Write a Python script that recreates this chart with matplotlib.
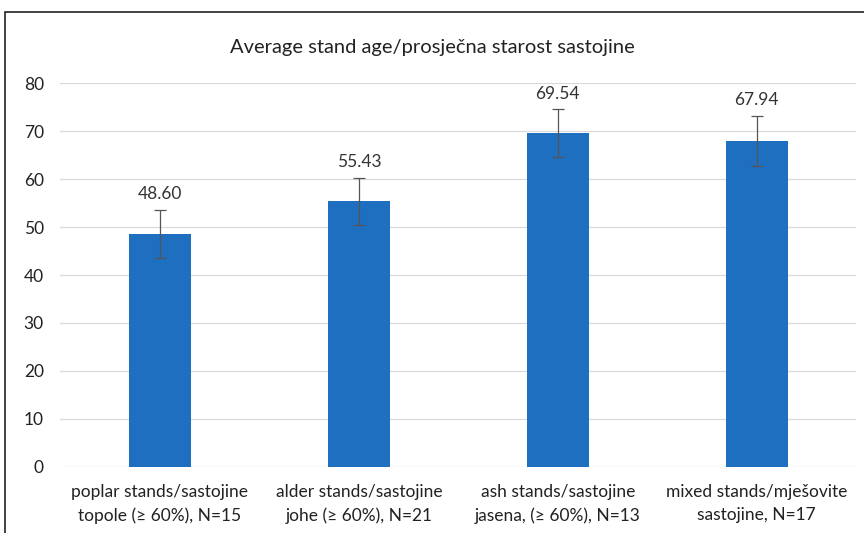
import matplotlib
matplotlib.use("Agg")
from matplotlib import pyplot as plt
from matplotlib.patches import Rectangle

categories = ["poplar stands/sastojine\ntopole (\u2265 60%), N=15",
              "alder stands/sastojine\njohe (\u2265 60%), N=21",
              "ash stands/sastojine\njasena, (\u2265 60%), N=13",
              "mixed stands/mje\u0161ovite\nsastojine, N=17"]
ages = [48.60, 55.43, 69.54, 67.94]
errors = [5.0, 4.9, 5.0, 5.3]
yticks = [0, 10, 20, 30, 40, 50, 60, 70, 80]

plt.rcParams['font.family'] = ['Lato', 'DejaVu Sans']

fig = plt.figure(figsize=(8.64, 5.33), dpi=100)
ax = fig.add_axes([0.07, 0.124, 0.921, 0.72])

x = range(len(categories))
ax.bar(x, ages, width=0.31, color="#1f6fc1", zorder=2)
ax.errorbar(x, ages, yerr=errors, fmt="none", ecolor="#555555",
            elinewidth=0.9, capsize=4, capthick=0.9, zorder=3)
for i, v in enumerate(ages):
    ax.text(i, v + errors[i] + 1.6, "%.2f" % v, ha="center", va="bottom",
            fontsize=12.5, color="#333333")

ax.set_xlim(-0.5, len(categories) - 0.5)
ax.set_ylim(0, 80)
ax.set_yticks(yticks)
ax.set_xticks(list(x))
ax.set_xticklabels(categories, fontsize=12.5, color="#222222", linespacing=1.55)
ax.tick_params(axis="y", labelsize=12.5, colors="#222222", length=0, pad=12)
ax.tick_params(axis="x", length=0, pad=12)
ax.grid(axis="y", color="#d9d9d9", linewidth=0.9, zorder=0)
for s in ax.spines.values():
    s.set_visible(False)

fig.text(0.5, 0.91, "Average stand age/prosje\u010dna starost sastojine",
         ha="center", va="center", fontsize=14.5, color="#222222")

fig.patches.append(Rectangle((5 / 864, -0.1), 1.2, 1 - 12 / 533 + 0.1,
                             transform=fig.transFigure, fill=False,
                             edgecolor="#222222", linewidth=1.2))

fig.savefig("out.png", dpi=100)
